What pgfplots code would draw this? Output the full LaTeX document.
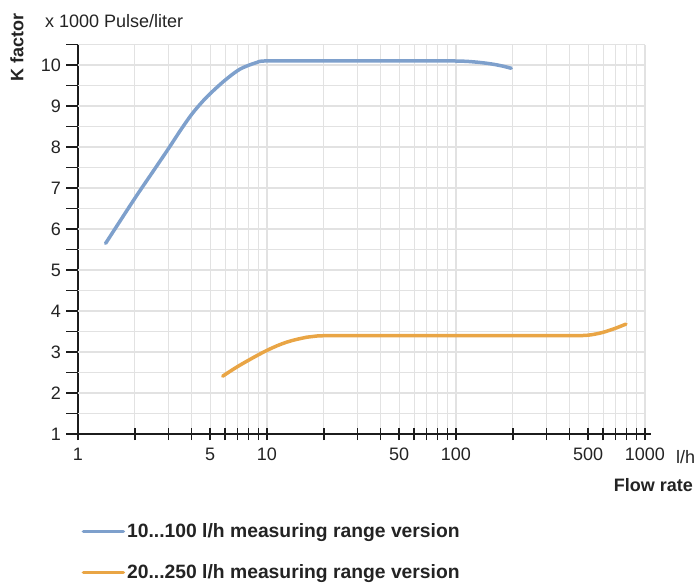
\documentclass[border=0pt]{standalone}
\usepackage{fontspec}
\setmainfont{Liberation Sans}
\usepackage{pgfplots}
\pgfplotsset{compat=1.18}
\definecolor{kblue}{RGB}{126,160,204}
\definecolor{korange}{RGB}{233,165,69}
\definecolor{gridc}{RGB}{226,226,226}
\definecolor{axc}{RGB}{28,28,28}
\definecolor{txc}{RGB}{35,35,35}
\begin{document}
\fontsize{18}{21}\selectfont
\begin{tikzpicture}
\path[use as bounding box] (-78pt,-148pt) rectangle (621pt,434pt);
\begin{axis}[
  at={(0pt,0pt)}, anchor=south west,
  scale only axis, width=573pt, height=389.5pt,
  xmode=log, xmin=1, xmax=1076, ymin=1, ymax=10.5,
  axis lines=left,
  axis line style={-, line width=2.2pt, axc},
  clip=false,
  xtick={1,5,10,50,100,500,1000},
  xticklabels={1,5,10,50,100,500,1000},
  minor xtick={2,3,4,6,7,8,9,20,30,40,60,70,80,90,200,300,400,600,700,800,900},
  ytick={1,2,3,4,5,6,7,8,9,10},
  yticklabels={1,2,3,4,5,6,7,8,9,10},
  minor ytick={1.5,2.5,3.5,4.5,5.5,6.5,7.5,8.5,9.5,10.5},
  xtick align=center, ytick align=outside,
  major tick length=12pt, minor tick length=12pt,
  every tick/.style={axc, line width=1.3pt},
  xmajorgrids, xminorgrids,
  major grid style={gridc, line width=1.1pt},
  minor grid style={gridc, line width=1.1pt},
  tick label style={font=\fontsize{18}{21}\selectfont, text=txc},
  x tick label style={yshift=-2pt},
  y tick label style={xshift=1pt},
  /pgf/number format/assume math mode=true,
  legend style={at={(axis description cs:0.006,-0.303)}, anchor=west, draw=none, fill=none,
    font=\fontsize{19.3}{22}\selectfont\bfseries, text=txc, row sep=20pt,
    inner sep=0pt},
  legend cell align=left,
  legend image code/.code={\draw[#1, line width=3.5pt] (0pt,0pt) -- (40pt,0pt);},
]
\pgfplotsinvokeforeach{1.5,2,2.5,3,3.5,4,4.5,5,5.5,6,6.5,7,7.5,8,8.5,9,9.5,10,10.5}{
  \draw[gridc, line width=1.1pt] (axis cs:1,#1) -- (axis cs:1000,#1);
}
\addplot[kblue, line width=3.5pt, line cap=round, smooth, tension=0.5] coordinates {
(1.4,5.65)(2,6.75)(2.5,7.41)(3,7.95)(3.5,8.42)(4,8.80)(4.5,9.08)(5,9.30)(6,9.63)(7.2,9.90)(8.8,10.06)(10,10.10)(20,10.10)(50,10.10)(90,10.10)(113,10.09)(135,10.06)(157,10.02)(178,9.97)(196,9.92)
};
\addlegendentry{10...100 l/h measuring range version}
\addplot[korange, line width=3.5pt, line cap=round, smooth, tension=0.6] coordinates {
(5.83,2.41)(7.2,2.68)(9.9,3.03)(12.7,3.24)(16.2,3.36)(18.3,3.39)(25,3.40)(100,3.40)(400,3.40)(450,3.40)(500,3.41)(550,3.44)(600,3.48)(650,3.53)(708,3.59)(793,3.68)
};
\addlegendentry{20...250 l/h measuring range version}
\end{axis}
\node[anchor=base west, inner sep=0pt, text=txc] at (-33pt,406pt) {x 1000 Pulse/liter};
\node[rotate=90, font=\bfseries, text=txc] at (-61pt,387pt) {K factor};
\node[anchor=base west, inner sep=0pt, text=txc] at (598pt,-29pt) {l/h};
\node[anchor=east, inner sep=0pt, font=\bfseries, text=txc] at (615pt,-51pt) {Flow rate};
\end{tikzpicture}
\end{document}
